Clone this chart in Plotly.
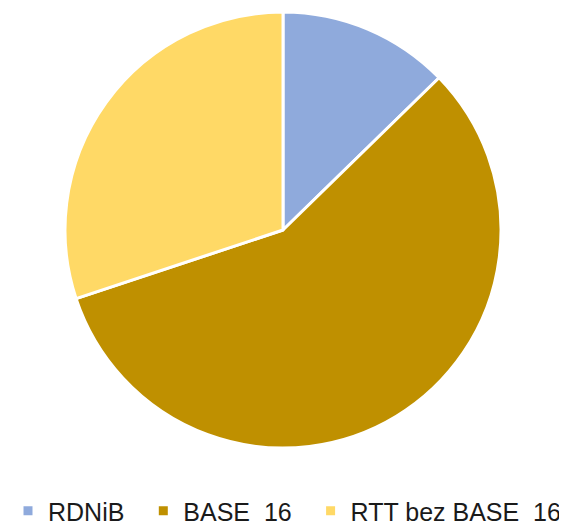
import plotly.graph_objects as go

labels = ["RDNiB", "BASE  16", "RTT bez BASE  16"]
values = [12.7, 57.2, 30.1]
colors = ["#8FAADC", "#BF9000", "#FFD966"]

# page has an 8px body margin, so the figure is drawn 8px in from the top-left
OFF = 8
W, H = 567 - OFF, 530 - OFF
cx, cy, r = 283 - OFF, 230 - OFF, 218

# extra trailing gap after the first two legend entries (as in the reference)
legend_text = [l + "\u00a0\u00a0" for l in labels[:-1]] + [labels[-1]]

fig = go.Figure(go.Pie(
    labels=legend_text,
    values=values,
    sort=False,
    direction="clockwise",
    rotation=0,
    textinfo="none",
    hoverinfo="label+percent",
    marker=dict(colors=colors, line=dict(color="white", width=3)),
    domain=dict(x=[(cx - r) / W, (cx + r) / W], y=[(H - (cy + r)) / H, (H - (cy - r)) / H]),
))

fig.update_layout(
    width=W, height=H,
    margin=dict(l=0, r=0, t=0, b=0, autoexpand=False),
    paper_bgcolor="white",
    plot_bgcolor="white",
    showlegend=True,
    legend=dict(
        orientation="h",
        x=0.0, xanchor="left",
        y=(H - (511 - OFF)) / H, yanchor="middle",
        font=dict(family="Liberation Sans, sans-serif", size=25, color="#1a1a1a"),
        itemwidth=30,
        traceorder="normal",
        bgcolor="rgba(0,0,0,0)",
    ),
)

fig.write_html("out.html")
